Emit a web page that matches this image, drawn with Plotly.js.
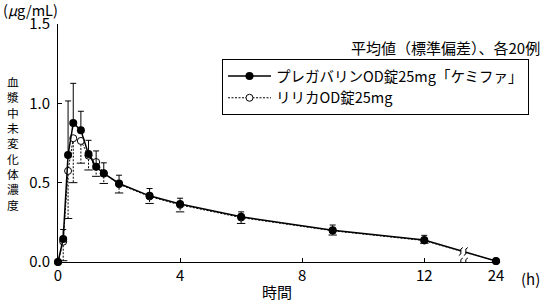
<!DOCTYPE html>
<html>
<head>
<meta charset="utf-8">
<script src="https://cdn.plot.ly/plotly-3.0.1.min.js"></script>
<style>html,body{margin:0;padding:0;background:#fff}#chart{width:543px;height:302px}</style>
</head>
<body>
<div id="chart"></div>
<script>
// ---- data (hours, µg/mL) ----
const times = [0, 0.17, 0.33, 0.5, 0.75, 1, 1.25, 1.5, 2, 3, 4, 6, 9, 12, 24];
const meanTest = [0, 0.145, 0.675, 0.876, 0.83, 0.68, 0.60, 0.558, 0.495, 0.417, 0.365, 0.285, 0.20, 0.138, 0.006];
const sdTest   = [0, 0.06, 0.34, 0.25, 0.12, 0.087, 0.10, 0.067, 0.052, 0.046, 0.037, 0.031, 0.033, 0.03, 0.005];
const meanRef  = [0, 0.128, 0.574, 0.78, 0.763, 0.67, 0.63, 0.56, 0.49, 0.413, 0.36, 0.28, 0.197, 0.135, 0.005];
const sdRef    = [0, 0.12, 0.30, 0.28, 0.14, 0.09, 0.09, 0.065, 0.055, 0.044, 0.044, 0.037, 0.027, 0.017, 0.005];
const nameTest = 'プレガバリンOD錠25mg「ケミファ」';
const nameRef = 'リリカOD錠25mg';
const xTickVals = [0, 4, 8, 12, 24];
const yTickVals = [0, 0.5, 1.0, 1.5];

// ---- broken time axis: 12 h -> 24 h compressed ----
const BREAK_START = 12, BREAK_END_DISP = 14.35, BREAK_MARK = 13.28;
const disp = t => (t > BREAK_START ? BREAK_END_DISP : t);
const xs = times.map(disp);

// ---- layout geometry ----
const W = 543, H = 302, L = 58, R = 47, T = 24, B = 40;
const pw = W - L - R, ph = H - T - B;
const pxX = px => (px - L) / pw;
const pxY = py => (H - B - py) / ph;
const FONT = '"Noto Sans CJK JP", "Noto Sans", sans-serif';

// reference: dashed lower SD stems + caps
const stemX = [], stemY = [], capX = [], capY = [];
xs.forEach((x, i) => {
  if (sdRef[i] > 0) {
    stemX.push(x, x, null); stemY.push(meanRef[i], meanRef[i] - sdRef[i], null);
    capX.push(x); capY.push(meanRef[i] - sdRef[i]);
  }
});

const traces = [
  {x: stemX, y: stemY, mode: 'lines', line: {color: '#000', width: 1, dash: '2px,1.5px'}, showlegend: false, hoverinfo: 'skip', cliponaxis: false},
  {x: capX, y: capY, mode: 'markers', marker: {symbol: 'line-ew', size: 6, line: {color: '#000', width: 1}}, showlegend: false, hoverinfo: 'skip', cliponaxis: false},
  {x: xs, y: meanRef, name: nameRef, mode: 'lines+markers',
   line: {color: '#000', width: 1, dash: '2px,1.5px'},
   marker: {symbol: 'circle', size: 7, color: '#fff', line: {color: '#000', width: 1}}, cliponaxis: false},
  {x: xs, y: meanTest, name: nameTest, mode: 'lines+markers',
   line: {color: '#000', width: 1.5},
   marker: {symbol: 'circle', size: 8, color: '#000'},
   error_y: {type: 'data', symmetric: false, array: sdTest, arrayminus: sdTest.map(() => 0), width: 3, thickness: 1, color: '#000'},
   cliponaxis: false}
];

// break marks
const n = xs.length;
const frac = (BREAK_MARK - xs[n - 2]) / (xs[n - 1] - xs[n - 2]);
const yBreakLine = meanTest[n - 2] + frac * (meanTest[n - 1] - meanTest[n - 2]);
function breakMark(yv) {
  const base = {xref: 'x', yref: 'y', xsizemode: 'pixel', ysizemode: 'pixel', xanchor: BREAK_MARK, yanchor: yv, layer: 'above'};
  return [
    Object.assign({}, base, {type: 'rect', x0: -2.2, x1: 2.2, y0: -5, y1: 5, fillcolor: '#fff', line: {width: 0}}),
    Object.assign({}, base, {type: 'path', path: 'M -4.5,-4 Q -1.5,-3 -2.5,0 Q -3.5,3 -0.5,4', line: {color: '#000', width: 1}}),
    Object.assign({}, base, {type: 'path', path: 'M 0.5,-4 Q 3.5,-3 2.5,0 Q 1.5,3 4.5,4', line: {color: '#000', width: 1}})
  ];
}
const shapes = breakMark(0).concat(breakMark(yBreakLine));

// annotations
const yTitle = '血漿中未変化体濃度';
const annotations = [
  {text: '(<i>μ</i>g/mL)', xref: 'paper', yref: 'paper', x: pxX(1), y: pxY(9), xanchor: 'left', yanchor: 'middle', showarrow: false, font: {size: 14.5, color: '#000', family: FONT}},
  {text: '平均値（標準偏差）、各20例', xref: 'paper', yref: 'paper', x: pxX(542), y: pxY(48), xanchor: 'right', yanchor: 'middle', showarrow: false, font: {size: 15, color: '#000', family: FONT}},
  {text: '(h)', xref: 'paper', yref: 'paper', x: pxX(530), y: pxY(278), xanchor: 'center', yanchor: 'middle', showarrow: false, font: {size: 15, color: '#000', family: FONT}},
  {text: Array.from(yTitle).join('<br>'), xref: 'paper', yref: 'paper', x: pxX(13), y: pxY(143), xanchor: 'center', yanchor: 'middle', showarrow: false, font: {size: 11.8, color: '#000', family: FONT}}
];

const layout = {
  width: W, height: H,
  margin: {l: L, r: R, t: T, b: B, pad: 0, autoexpand: false},
  paper_bgcolor: '#fff', plot_bgcolor: '#fff',
  font: {family: FONT, color: '#000', size: 15},
  showlegend: true,
  legend: {x: pxX(222), y: pxY(59), xanchor: 'left', yanchor: 'top', bordercolor: '#000', borderwidth: 1, bgcolor: '#fff',
           font: {size: 14.5, family: FONT, color: '#000'}, traceorder: 'reversed', tracegroupgap: 0, itemwidth: 43},
  xaxis: {range: [0, BREAK_END_DISP], showline: true, linecolor: '#000', linewidth: 1, showgrid: false, zeroline: false,
          ticks: 'inside', ticklen: 4, tickcolor: '#000', tickvals: xTickVals.map(disp), ticktext: xTickVals.map(String),
          tickfont: {size: 15}, title: {text: '時間', font: {size: 15}, standoff: 5}, fixedrange: true},
  yaxis: {range: [0, 1.5], showline: true, linecolor: '#000', linewidth: 1, showgrid: false, zeroline: false,
          ticks: 'inside', ticklen: 4, tickcolor: '#000', tickvals: yTickVals, ticktext: yTickVals.map(v => v.toFixed(1)),
          tickfont: {size: 15}, ticklabelstandoff: 4, fixedrange: true},
  shapes: shapes,
  annotations: annotations
};

Plotly.newPlot('chart', traces, layout, {staticPlot: true, displayModeBar: false});
</script>
</body>
</html>
